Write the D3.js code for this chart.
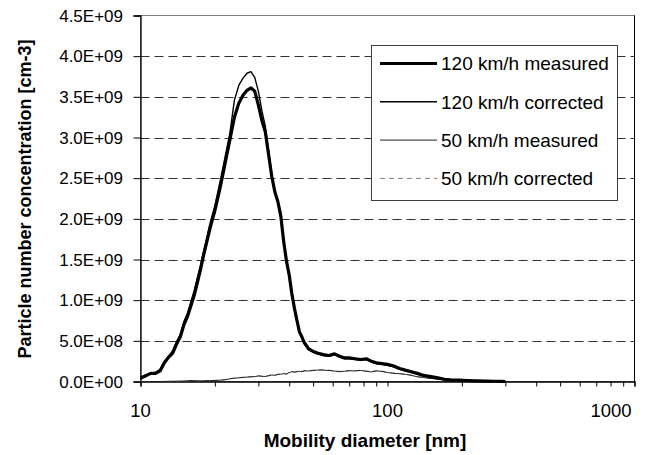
<!DOCTYPE html>
<html>
<head>
<meta charset="utf-8">
<script src="https://cdn.jsdelivr.net/npm/d3@7"></script>
<style>
    body { margin: 0; background: #fff; }
    text { font-family: "Liberation Sans", Arial, sans-serif; fill: #000; }
</style>
</head>
<body>
<svg id="chart"></svg>
<script>
// values are in units of 1E+09 particles per cm3
let unit = 1e9;

let diameters = [10, 10.5, 11, 11.5, 12, 12.5, 13, 13.5, 14, 14.5, 15, 15.5, 16, 16.5, 17, 17.5, 18, 18.5, 19, 19.5, 20,
    21, 22, 23, 24, 25, 26, 27, 28, 29, 30, 31, 32, 33, 34, 35, 36, 37, 38, 39, 40, 41, 42, 43, 44, 45, 46,
    48, 50, 52, 55, 58, 61, 64, 67, 70, 74, 78, 82, 86, 90, 95, 100,
    106, 112, 118, 125, 132, 140, 150, 160, 170, 180, 195, 210, 230, 250, 270, 290, 300];

let measured120 = [0.04, 0.07, 0.10, 0.10, 0.13, 0.23, 0.30, 0.35, 0.46, 0.55, 0.70, 0.80, 0.93, 1.06, 1.22, 1.38, 1.55, 1.70, 1.85, 1.98, 2.10,
    2.38, 2.68, 2.97, 3.25, 3.42, 3.52, 3.58, 3.61, 3.57, 3.40, 3.21, 3.07, 2.79, 2.52, 2.33, 2.21, 2.03, 1.72, 1.48, 1.31, 1.08, 0.90, 0.75, 0.61, 0.55, 0.48,
    0.40, 0.37, 0.35, 0.33, 0.32, 0.34, 0.31, 0.29, 0.29, 0.28, 0.27, 0.28, 0.25, 0.23, 0.22, 0.21,
    0.19, 0.16, 0.14, 0.12, 0.10, 0.075, 0.06, 0.045, 0.028, 0.02, 0.016, 0.012, 0.008, 0.005, 0.003, 0.001, 0];

let corrected120 = [0.05, 0.08, 0.10, 0.11, 0.15, 0.25, 0.31, 0.38, 0.49, 0.58, 0.74, 0.84, 0.98, 1.12, 1.28, 1.43, 1.60, 1.75, 1.91, 2.04, 2.16,
    2.46, 2.76, 3.05, 3.46, 3.64, 3.73, 3.79, 3.81, 3.74, 3.57, 3.33, 3.14, 2.84, 2.54, 2.33, 2.20, 2.01, 1.70, 1.46, 1.29, 1.06, 0.88, 0.73, 0.60, 0.54, 0.47,
    0.39, 0.36, 0.34, 0.32, 0.31, 0.33, 0.30, 0.28, 0.28, 0.27, 0.26, 0.27, 0.24, 0.22, 0.21, 0.20,
    0.18, 0.15, 0.13, 0.11, 0.09, 0.07, 0.055, 0.04, 0.025, 0.018, 0.014, 0.01, 0.007, 0.004, 0.002, 0.001, 0];

let measured50 = [0, 0, 0, 0, 0, 0.001, 0.002, 0.003, 0.003, 0.004, 0.006, 0.008, 0.012, 0.010, 0.008, 0.008, 0.009, 0.010, 0.011, 0.012, 0.013,
    0.016, 0.022, 0.033, 0.040, 0.045, 0.050, 0.054, 0.057, 0.060, 0.068, 0.064, 0.062, 0.070, 0.080, 0.076, 0.086, 0.090, 0.096, 0.090, 0.110, 0.120, 0.114, 0.120, 0.125, 0.120, 0.130,
    0.130, 0.135, 0.140, 0.140, 0.135, 0.128, 0.120, 0.126, 0.132, 0.130, 0.136, 0.125, 0.118, 0.130, 0.124, 0.110,
    0.100, 0.095, 0.088, 0.075, 0.058, 0.048, 0.037, 0.028, 0.018, 0.012, 0.007, 0.004, 0.002, 0.001, 0, 0, 0];

let corrected50 = [0, 0, 0, 0, 0, 0.001, 0.002, 0.003, 0.004, 0.005, 0.006, 0.009, 0.013, 0.011, 0.009, 0.009, 0.010, 0.011, 0.012, 0.013, 0.014,
    0.017, 0.024, 0.035, 0.042, 0.047, 0.052, 0.056, 0.060, 0.063, 0.071, 0.067, 0.065, 0.073, 0.083, 0.079, 0.089, 0.094, 0.100, 0.094, 0.114, 0.124, 0.118, 0.124, 0.129, 0.124, 0.134,
    0.134, 0.139, 0.144, 0.144, 0.139, 0.132, 0.124, 0.130, 0.136, 0.134, 0.140, 0.129, 0.122, 0.134, 0.128, 0.114,
    0.104, 0.098, 0.091, 0.078, 0.060, 0.050, 0.039, 0.029, 0.019, 0.013, 0.008, 0.004, 0.002, 0.001, 0, 0, 0];

let seriesNames = ["120 km/h measured", "120 km/h corrected", "50 km/h measured", "50 km/h corrected"];

let yTicks = [0, 0.5, 1.0, 1.5, 2.0, 2.5, 3.0, 3.5, 4.0, 4.5];
let yTickLabels = ["0.0E+00", "5.0E+08", "1.0E+09", "1.5E+09", "2.0E+09", "2.5E+09", "3.0E+09", "3.5E+09", "4.0E+09", "4.5E+09"];
let xTicks = [10, 100, 1000];
let xTickLabels = ["10", "100", "1000"];

let width = 670, height = 455;
let plot = { left: 140.5, right: 634.5, top: 15.5, bottom: 381.5 };

let svg = d3.select("#chart")
    .attr("width", width)
    .attr("height", height);

let x = d3.scaleLog()
    .domain([10, 1000])
    .range([plot.left, plot.right]);

let y = d3.scaleLinear()
    .domain([0, 4.5])
    .range([plot.bottom, plot.top]);

// plot frame
svg.append("rect")
    .attr("x", plot.left)
    .attr("y", plot.top)
    .attr("width", plot.right - plot.left)
    .attr("height", plot.bottom - plot.top)
    .attr("fill", "none")
    .attr("stroke", "#808080")
    .attr("stroke-width", 1);

// dashed gridlines
svg.append("g")
    .selectAll("line")
    .data(yTicks.filter(function (d) { return d > 0 && d < 4.5 }))
    .enter()
    .append("line")
    .attr("x1", plot.left)
    .attr("x2", plot.right)
    .attr("y1", function (d) { return Math.round(y(d)) + 0.5 })
    .attr("y2", function (d) { return Math.round(y(d)) + 0.5 })
    .attr("stroke", "#333")
    .attr("stroke-dasharray", "9,5");

svg.append("line")
    .attr("x1", plot.right).attr("x2", plot.right)
    .attr("y1", plot.top).attr("y2", plot.bottom)
    .attr("stroke", "#000");

let xAxis = d3.axisBottom(x)
    .tickValues([10, 20, 30, 40, 50, 60, 70, 80, 90, 100, 200, 300, 400, 500, 600, 700, 800, 900, 1000])
    .tickSize(5)
    .tickFormat("");

let yAxis = d3.axisLeft(y)
    .tickValues(yTicks)
    .tickSize(7)
    .tickFormat("");

let gx = svg.append("g")
    .attr("transform", "translate(0," + plot.bottom + ")")
    .call(xAxis);

let gy = svg.append("g")
    .attr("transform", "translate(" + plot.left + ",0)")
    .call(yAxis);

[gx, gy].forEach(function (g) {
    g.select(".domain").attr("stroke", "#000").attr("stroke-width", 1.3);
    g.selectAll(".tick line").attr("stroke", "#000");
});

svg.append("g")
    .selectAll("text")
    .data(yTicks)
    .enter()
    .append("text")
    .attr("x", 123)
    .attr("y", function (d) { return y(d) })
    .attr("dy", "0.36em")
    .attr("text-anchor", "end")
    .attr("font-size", "17px")
    .text(function (d, i) { return yTickLabels[i] });

// last label is pushed inside the chart area, as the original does
svg.append("g")
    .selectAll("text")
    .data(xTicks)
    .enter()
    .append("text")
    .attr("x", function (d) { return Math.min(x(d), width - 59) })
    .attr("y", 417)
    .attr("text-anchor", "middle")
    .attr("font-size", "18.5px")
    .text(function (d, i) { return xTickLabels[i] });

svg.append("text")
    .attr("x", 365)
    .attr("y", 447)
    .attr("text-anchor", "middle")
    .attr("font-size", "19px")
    .attr("font-weight", "bold")
    .text("Mobility diameter [nm]");

svg.append("text")
    .attr("transform", "translate(31," + 199 + ")rotate(-90)")
    .attr("text-anchor", "middle")
    .attr("font-size", "18px")
    .attr("font-weight", "bold")
    .text("Particle number concentration [cm-3]");

// line styles per series
let styles = [
    { width: 3.2, color: "#000", dash: null },
    { width: 1.4, color: "#000", dash: null },
    { width: 1, color: "#222", dash: null },
    { width: 1, color: "#808080", dash: "5,4" }
];

let seriesValues = [measured120, corrected120, measured50, corrected50];

let line = d3.line()
    .x(function (d) { return x(d[0]) })
    .y(function (d) { return y(d[1]) });

// draw order: thin lines on top of thick
[3, 2, 0, 1].forEach(function (k) {
    let pts = diameters.map(function (d, i) { return [d, seriesValues[k][i]] });
    svg.append("path")
        .datum(pts)
        .attr("d", line)
        .attr("fill", "none")
        .attr("stroke", styles[k].color)
        .attr("stroke-width", styles[k].width)
        .attr("stroke-linejoin", "round")
        .attr("stroke-dasharray", styles[k].dash);
});

// legend
let legend = svg.append("g");

legend.append("rect")
    .attr("x", 371.5)
    .attr("y", 45.5)
    .attr("width", 246)
    .attr("height", 155)
    .attr("fill", "#fff")
    .attr("stroke", "#404040");

seriesNames.forEach(function (name, i) {
    let ly = 63.5 + i * 38.3;
    legend.append("line")
        .attr("x1", 380)
        .attr("x2", 437)
        .attr("y1", ly)
        .attr("y2", ly)
        .attr("stroke", styles[i].color)
        .attr("stroke-width", styles[i].width)
        .attr("stroke-dasharray", styles[i].dash);
    legend.append("text")
        .attr("x", 441)
        .attr("y", ly)
        .attr("dy", "0.36em")
        .attr("font-size", "19px")
        .text(name);
});
</script>
</body>
</html>
